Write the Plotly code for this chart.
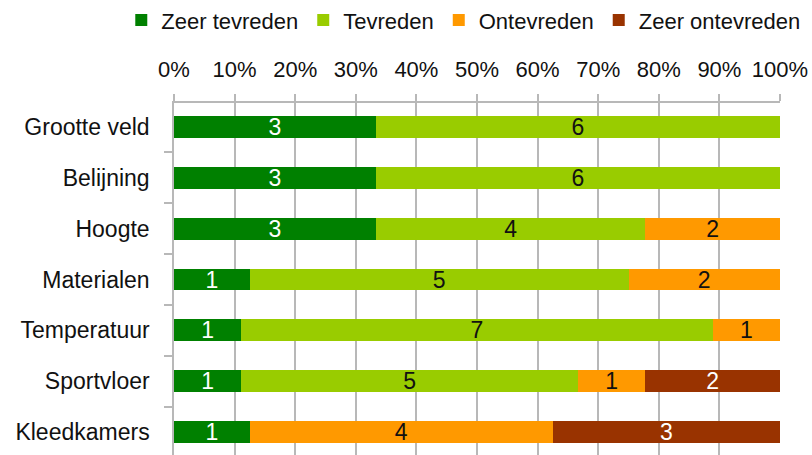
import plotly.graph_objects as go

categories = ["Grootte veld", "Belijning", "Hoogte", "Materialen", "Temperatuur", "Sportvloer", "Kleedkamers"]
series_names = ["Zeer tevreden", "Tevreden", "Ontevreden", "Zeer ontevreden"]
zeer_tevreden = [3, 3, 3, 1, 1, 1, 1]
tevreden = [6, 6, 4, 5, 7, 5, 0]
ontevreden = [0, 0, 2, 2, 1, 1, 4]
zeer_ontevreden = [0, 0, 0, 0, 0, 2, 3]
tick_values = [0, 10, 20, 30, 40, 50, 60, 70, 80, 90, 100]
tick_labels = ["0%", "10%", "20%", "30%", "40%", "50%", "60%", "70%", "80%", "90%", "100%"]

colors = ["#008000", "#99CC00", "#FF9900", "#993300"]
text_colors = ["white", "#111111", "#111111", "white"]
FONT = "Liberation Sans, Arial, sans-serif"

fig = go.Figure()
for name, vals, col, tcol in zip(series_names,
                                 [zeer_tevreden, tevreden, ontevreden, zeer_ontevreden],
                                 colors, text_colors):
    fig.add_trace(go.Bar(
        y=categories, x=vals, name=name, orientation="h",
        marker=dict(color=col, line=dict(width=0)),
        text=[str(v) if v else "" for v in vals],
        textposition="inside", insidetextanchor="middle", textangle=0,
        constraintext="none",
        textfont=dict(color=tcol, size=23, family=FONT),
        width=0.43, hoverinfo="x+y+name",
    ))

fig.update_layout(
    barmode="stack", barnorm="percent",
    width=812, height=455,
    margin=dict(l=174, r=32, t=103, b=0, autoexpand=False),
    paper_bgcolor="white", plot_bgcolor="white",
    font=dict(family=FONT, size=22, color="#111111"),
    legend=dict(orientation="h", x=-0.087, xanchor="left", y=1.235, yanchor="middle",
                font=dict(size=22), itemwidth=30, traceorder="normal"),
    showlegend=True,
)
fig.update_xaxes(
    side="top", range=[0, 100], tickvals=tick_values, ticktext=tick_labels,
    showgrid=True, gridcolor="#B8B8B8", gridwidth=1.5,
    showline=True, linecolor="#B8B8B8", linewidth=1.5,
    ticks="outside", ticklen=7, tickcolor="#B8B8B8", tickwidth=1.5,
    zeroline=False, tickfont=dict(size=22), ticklabelstandoff=8, automargin=False,
)
fig.update_yaxes(
    categoryorder="array", categoryarray=categories,
    range=[6.45, -0.47], tickson="boundaries",
    showline=True, linecolor="#B8B8B8", linewidth=1.5,
    ticks="outside", ticklen=8, tickcolor="#B8B8B8", tickwidth=1.5,
    showgrid=False, tickfont=dict(size=23), ticklabelstandoff=18, automargin=False,
)
fig.write_html("out.html", config={"displayModeBar": False},
               post_script="document.body.style.margin='0';")
